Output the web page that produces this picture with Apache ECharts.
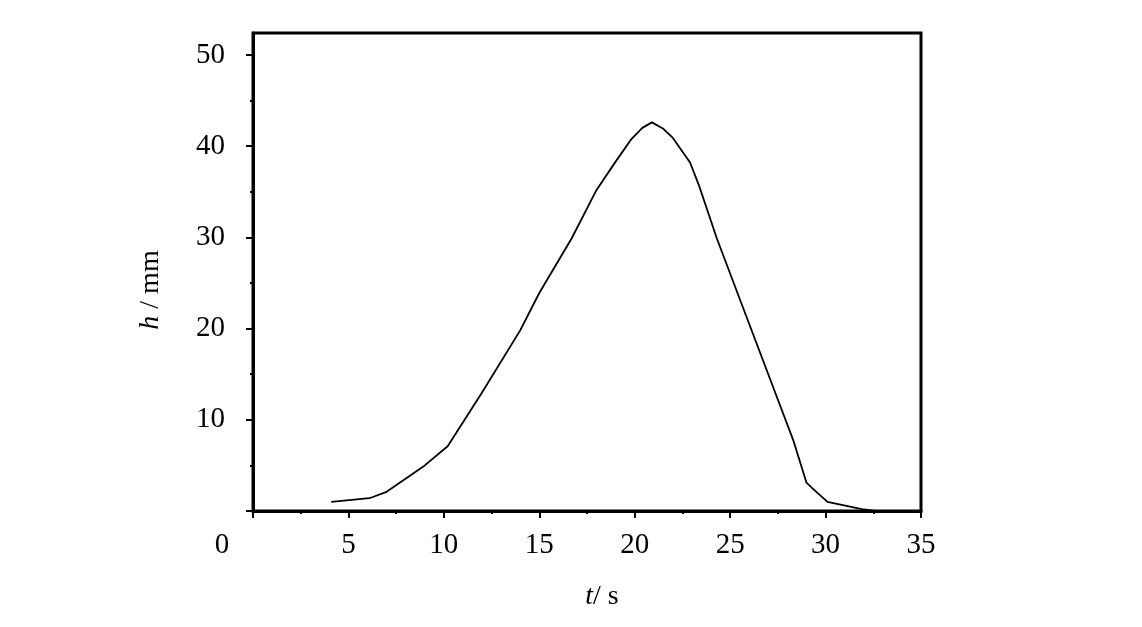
<!DOCTYPE html>
<html>
<head>
<meta charset="utf-8">
<script src="https://cdn.jsdelivr.net/npm/echarts@6/dist/echarts.min.js"></script>
<style>html,body{margin:0;padding:0;background:#fff;}#c{width:1142px;height:627px;}</style>
</head>
<body>
<div id="c"></div>
<script>
const tValues = [4.1, 6.1, 7.0, 9.0, 10.2, 12.0, 14.0, 15.0, 16.7, 18.0, 19.0, 19.8, 20.4, 20.9, 21.5, 22.0, 22.9, 23.4, 24.3, 26.0, 27.9, 28.3, 29.0, 29.3, 30.1, 31.9, 32.6];
const hValues = [1.0, 1.4, 2.1, 5.0, 7.1, 13.0, 19.8, 23.9, 29.9, 35.2, 38.3, 40.7, 42.0, 42.6, 41.9, 40.9, 38.2, 35.5, 29.9, 20.5, 10.0, 7.8, 3.1, 2.5, 1.0, 0.2, 0.0];
const yMajor = [0, 10, 20, 30, 40, 50];
const yLabels = [10, 20, 30, 40, 50];
const yMinor = [5, 15, 25, 35, 45];
const xTicks = [0, 5, 10, 15, 20, 25, 30, 35];

const font = 'Liberation Serif';
const chart = echarts.init(document.getElementById('c'));
const data = tValues.map((t, i) => [t, hValues[i]]);
chart.setOption({
  animation: false,
  backgroundColor: '#fff',
  grid: { left: 253, right: 221, top: 33, bottom: 116, show: true, borderColor: '#000', borderWidth: 3, backgroundColor: 'transparent' },
  xAxis: [{
    type: 'value', min: 0, max: 35, interval: 5,
    axisLine: { show: true, lineStyle: { color: '#000', width: 3 } },
    axisTick: { show: true, inside: false, length: 7, lineStyle: { color: '#000', width: 2 } },
    minorTick: { show: true, splitNumber: 2, length: 3, lineStyle: { color: '#000', width: 2 } },
    splitLine: { show: false },
    axisLabel: {
      color: '#000', fontFamily: font, fontSize: 29, margin: 20,
      formatter: function (v) { return v === 0 ? '{o|0}' : String(v); },
      rich: { o: { color: '#000', fontFamily: font, fontSize: 29, padding: [0, 62, 0, 0] } }
    },
    name: '{i|t}/ s', nameLocation: 'middle', nameGap: 72,
    nameTextStyle: { color: '#000', fontFamily: font, fontSize: 28, padding: [0, 0, 0, 30],
      rich: { i: { fontStyle: 'italic', fontFamily: font, fontSize: 28, color: '#000' } } }
  }],
  yAxis: [{
    type: 'value', min: 0, max: 52.4,
    axisLine: { show: true, lineStyle: { color: '#000', width: 3 } },
    axisTick: { show: true, length: 7, customValues: yMajor, lineStyle: { color: '#000', width: 2 } },
    splitLine: { show: false },
    axisLabel: { color: '#000', fontFamily: font, fontSize: 29, margin: 28, customValues: yLabels },
    name: '{i|h} / mm', nameLocation: 'middle', nameGap: 88, nameRotate: 90,
    nameTextStyle: { color: '#000', fontFamily: font, fontSize: 28, padding: [0, 36, 0, 0],
      rich: { i: { fontStyle: 'italic', fontFamily: font, fontSize: 28, color: '#000' } } }
  }, {
    type: 'value', min: 0, max: 52.4, position: 'left',
    axisLine: { show: false },
    axisTick: { show: true, length: 3, customValues: yMinor, lineStyle: { color: '#000', width: 2 } },
    splitLine: { show: false },
    axisLabel: { show: false }
  }],
  series: [{
    type: 'line', data: data, xAxisIndex: 0, yAxisIndex: 0,
    showSymbol: false, smooth: false,
    lineStyle: { color: '#000', width: 1.8 }
  }]
});
</script>
</body>
</html>
